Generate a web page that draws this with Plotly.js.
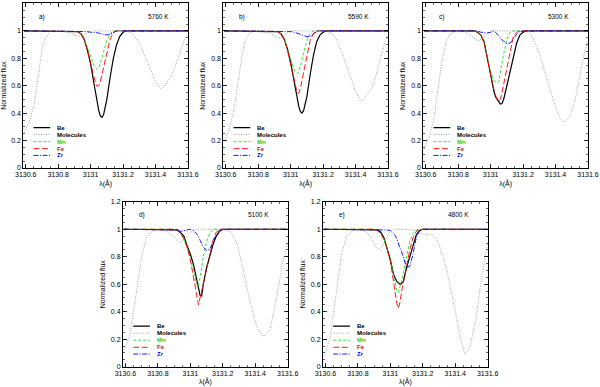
<!DOCTYPE html>
<html><head><meta charset="utf-8">
<script src="https://cdn.plot.ly/plotly-3.0.1.min.js"></script>
<style>html,body{margin:0;padding:0;background:#fff}#chart{width:600px;height:387px}</style>
</head><body><div id="chart"></div>
<script>
// ---------- data ----------
const panelLabels = ['a)', 'b)', 'c)', 'd)', 'e)'];
const temperatures = ['5760 K', '5590 K', '5300 K', '5100 K', '4800 K'];
const seriesNames = ['Be', 'Molecules', 'Mn', 'Fe', 'Zr'];
const xTickVals = [3130.6, 3130.8, 3131.0, 3131.2, 3131.4, 3131.6];
const xTickText = ['3130.6', '3130.8', '3131', '3131.2', '3131.4', '3131.6'];
const yTickVals = [0, 0.2, 0.4, 0.6, 0.8, 1, 1.2];
const yTickText = ['0', '0.2', '0.4', '0.6', '0.8', '1', '1.2'];

// wavelength grid for the atomic-line spectra
const lineX = [3130.59, 3130.90, 3130.92, 3130.94, 3130.96, 3130.98, 3131.00, 3131.02, 3131.03, 3131.04, 3131.05,
               3131.06, 3131.07, 3131.08, 3131.10, 3131.12, 3131.14, 3131.16, 3131.18, 3131.20, 3131.22, 3131.60];

// a) 5760 K
const beA = [1,1,0.995,0.98,0.94,0.86,0.76,0.62,0.55,0.48,0.42,0.38,0.37,0.39,0.50,0.66,0.80,0.90,0.96,0.99,1,1];
const mnA = [1,1,0.995,0.98,0.95,0.88,0.81,0.75,0.73,0.72,0.73,0.76,0.80,0.85,0.93,0.98,1,1,1,1,1,1];
const feA = [1,1,0.995,0.98,0.94,0.86,0.76,0.66,0.62,0.595,0.60,0.63,0.68,0.73,0.84,0.94,0.99,1,1,1,1,1];
const zrA = [1,1,1,1,1,0.995,0.99,0.99,0.985,0.985,0.985,0.98,0.978,0.975,0.97,0.975,0.99,1,1,1,1,1];
const molXA = [3130.59,3130.62,3130.65,3130.68,3130.70,3130.72,3130.75,3130.80,3130.85,3130.88,3130.91,3130.93,3130.95,3130.98,3131.00,3131.22,3131.25,3131.28,3131.31,3131.34,3131.37,3131.40,3131.43,3131.45,3131.47,3131.50,3131.53,3131.56,3131.58,3131.60];
const molYA = [0.26,0.33,0.45,0.70,0.86,0.95,0.995,1,0.995,0.98,0.965,0.96,0.965,0.99,1,1,0.985,0.95,0.885,0.80,0.715,0.63,0.58,0.59,0.62,0.68,0.77,0.88,0.94,0.98];

// b) 5590 K
const beB = [1,1,0.995,0.98,0.94,0.87,0.77,0.64,0.57,0.51,0.45,0.41,0.40,0.42,0.52,0.68,0.82,0.92,0.97,0.99,1,1];
const mnB = [1,1,0.995,0.98,0.94,0.87,0.79,0.72,0.70,0.69,0.70,0.74,0.79,0.84,0.93,0.98,1,1,1,1,1,1];
const feB = [1,1,0.995,0.98,0.94,0.86,0.76,0.64,0.59,0.55,0.545,0.58,0.64,0.70,0.82,0.93,0.98,1,1,1,1,1];
const zrB = [1,1,1,1,1,1,0.995,0.99,0.988,0.985,0.98,0.975,0.97,0.965,0.957,0.96,0.98,0.995,1,1,1,1];
const molXB = [3130.59,3130.62,3130.65,3130.68,3130.70,3130.72,3130.75,3130.80,3130.85,3130.88,3130.91,3130.93,3130.95,3130.98,3131.00,3131.22,3131.25,3131.28,3131.31,3131.34,3131.37,3131.40,3131.43,3131.45,3131.47,3131.50,3131.53,3131.56,3131.58,3131.60];
const molYB = [0.20,0.28,0.42,0.66,0.82,0.93,0.99,1,0.99,0.975,0.955,0.95,0.96,0.99,1,1,0.985,0.94,0.86,0.76,0.66,0.56,0.49,0.50,0.54,0.58,0.69,0.84,0.92,0.97];

// c) 5300 K
const beC = [1,1,0.99,0.97,0.92,0.80,0.67,0.56,0.52,0.50,0.48,0.467,0.47,0.50,0.60,0.71,0.82,0.91,0.97,0.99,1,1];
const mnC = [1,1,0.99,0.97,0.91,0.80,0.70,0.64,0.63,0.62,0.63,0.70,0.77,0.83,0.94,0.99,1,1,1,1,1,1];
const feC = [1,1,0.99,0.97,0.91,0.79,0.67,0.57,0.53,0.50,0.49,0.50,0.55,0.61,0.72,0.85,0.96,0.99,1,1,1,1];
const zrC = [1,1,1,0.99,0.985,0.985,0.99,1,0.99,0.975,0.96,0.945,0.935,0.925,0.91,0.91,0.94,0.975,0.995,1,1,1];
const molXC = [3130.59,3130.62,3130.65,3130.68,3130.70,3130.72,3130.75,3130.80,3130.85,3130.88,3130.91,3130.93,3130.95,3130.98,3131.00,3131.22,3131.25,3131.28,3131.31,3131.34,3131.37,3131.40,3131.43,3131.45,3131.47,3131.49,3131.51,3131.53,3131.56,3131.58,3131.60];
const molYC = [0.14,0.22,0.36,0.60,0.78,0.90,0.98,1,0.99,0.965,0.935,0.93,0.95,0.985,1,1,0.97,0.90,0.80,0.68,0.56,0.44,0.36,0.335,0.35,0.38,0.45,0.55,0.74,0.85,0.93];

// d) 5100 K
const beD = [1,1,0.995,0.975,0.95,0.88,0.82,0.74,0.68,0.62,0.56,0.52,0.515,0.60,0.72,0.81,0.89,0.95,0.985,1,1,1];
const mnD = [1,1,0.99,0.97,0.93,0.87,0.79,0.69,0.64,0.60,0.585,0.64,0.72,0.80,0.91,0.97,1,1,1,1,1,1];
const feD = [1,1,0.99,0.97,0.93,0.87,0.78,0.65,0.57,0.49,0.45,0.50,0.55,0.61,0.72,0.82,0.92,0.98,1,1,1,1];
const zrD = [1,1,0.995,0.985,0.99,1,1,0.99,0.98,0.965,0.945,0.92,0.895,0.87,0.845,0.855,0.91,0.96,0.99,1,1,1];
const molXD = [3130.59,3130.61,3130.63,3130.65,3130.67,3130.70,3130.73,3130.77,3130.82,3130.86,3130.90,3130.94,3130.96,3130.98,3131.00,3131.02,3131.06,3131.20,3131.25,3131.29,3131.33,3131.37,3131.41,3131.45,3131.49,3131.53,3131.57,3131.60];
const molYD = [0.12,0.17,0.24,0.40,0.55,0.80,0.94,0.99,1,0.98,0.945,0.90,0.93,0.95,0.98,0.995,1,1,0.98,0.89,0.68,0.46,0.29,0.22,0.27,0.49,0.77,0.90];

// e) 4800 K
const beE = [1,1,0.995,0.98,0.94,0.86,0.78,0.67,0.64,0.62,0.61,0.60,0.605,0.62,0.72,0.80,0.89,0.96,0.99,1,1,1];
const mnE = [1,1,0.99,0.97,0.93,0.86,0.77,0.66,0.60,0.55,0.54,0.58,0.63,0.68,0.80,0.91,0.97,0.995,1,1,1,1];
const feE = [1,1,0.99,0.97,0.93,0.86,0.77,0.63,0.55,0.46,0.425,0.47,0.55,0.61,0.73,0.85,0.94,0.985,1,1,1,1];
const zrE = [1,1,1,1,1,0.995,0.99,0.97,0.955,0.93,0.90,0.87,0.835,0.80,0.72,0.73,0.82,0.94,0.99,1,1,1];
const molXE = [3130.59,3130.61,3130.63,3130.65,3130.67,3130.70,3130.73,3130.77,3130.82,3130.86,3130.89,3130.91,3130.94,3130.97,3131.00,3131.03,3131.15,3131.18,3131.21,3131.26,3131.29,3131.32,3131.35,3131.39,3131.43,3131.46,3131.49,3131.53,3131.56,3131.60];
const molYE = [0.08,0.14,0.22,0.38,0.56,0.82,0.95,0.99,1,0.97,0.92,0.87,0.85,0.92,0.985,1,0.995,0.975,0.96,0.96,0.92,0.82,0.69,0.47,0.22,0.09,0.14,0.36,0.63,0.90];

// ---------- build ----------
const panelData = [
  {be: beA, mn: mnA, fe: feA, zr: zrA, mx: molXA, my: molYA},
  {be: beB, mn: mnB, fe: feB, zr: zrB, mx: molXB, my: molYB},
  {be: beC, mn: mnC, fe: feC, zr: zrC, mx: molXC, my: molYC},
  {be: beD, mn: mnD, fe: feD, zr: zrD, mx: molXD, my: molYD},
  {be: beE, mn: mnE, fe: feE, zr: zrE, mx: molXE, my: molYE}
];

const styles = {
  Be:        {color: '#000000', dash: 'solid',             width: 1.2, text: '#000000'},
  Molecules: {color: '#8a8a8a', dash: '1px,1.5px',         width: 0.8, text: '#000000'},
  Mn:        {color: '#22dd22', dash: '3px,2px',           width: 0.9, text: '#22cc22'},
  Fe:        {color: '#ff0000', dash: '6px,2.5px',         width: 0.9, text: '#ff0000'},
  Zr:        {color: '#0000ff', dash: '5px,1.5px,1px,1.5px', width: 0.9, text: '#0000ff'}
};

const xDomains = [[0.0388, 0.3133], [0.3722, 0.6467], [0.7055, 0.9800], [0.2050, 0.4795], [0.5383, 0.8128]];
const yDomains = [[0.5659, 0.9910], [0.5659, 0.9910], [0.5659, 0.9910], [0.0525, 0.4786], [0.0525, 0.4786]];

const FONT = 'Liberation Sans, Arial, sans-serif';
const traces = [];
const layout = {
  width: 600, height: 387,
  margin: {l: 0, r: 0, t: 0, b: 0},
  paper_bgcolor: '#ffffff', plot_bgcolor: '#ffffff',
  showlegend: false,
  font: {family: FONT, size: 7, color: '#000'},
  annotations: [], shapes: []
};

panelData.forEach((p, i) => {
  const n = i === 0 ? '' : String(i + 1);
  const xa = 'x' + n, ya = 'y' + n;
  const series = [
    ['Be', lineX, p.be], ['Molecules', p.mx, p.my], ['Mn', lineX, p.mn], ['Fe', lineX, p.fe], ['Zr', lineX, p.zr]
  ];
  series.forEach(([name, xs, ys]) => {
    const s = styles[name];
    traces.push({x: xs, y: ys, type: 'scatter', mode: 'lines', name: name, xaxis: xa, yaxis: ya,
      line: {color: s.color, dash: s.dash, width: s.width}, hoverinfo: 'skip'});
  });

  const axisCommon = {
    showline: true, linecolor: '#000', linewidth: 1, mirror: 'ticks',
    ticks: 'inside', ticklen: 4, tickwidth: 0.8, tickcolor: '#000',
    showgrid: false, zeroline: false, automargin: false,
    tickfont: {family: FONT, size: 7, color: '#000'}
  };
  layout['xaxis' + n] = Object.assign({}, axisCommon, {
    domain: xDomains[i], anchor: ya, range: [3130.585, 3131.6],
    tickmode: 'array', tickvals: xTickVals, ticktext: xTickText,
    minor: {tick0: 3130.6, dtick: 0.05, ticks: 'inside', ticklen: 2, tickcolor: '#000', tickwidth: 0.6},
    title: {text: 'λ(Å)', font: {family: FONT, size: 7, color: '#000'}, standoff: 3}
  });
  layout['yaxis' + n] = Object.assign({}, axisCommon, {
    domain: yDomains[i], anchor: xa, range: [0, 1.2],
    tickmode: 'array', tickvals: yTickVals, ticktext: yTickText,
    minor: {tick0: 0, dtick: 0.05, ticks: 'inside', ticklen: 2, tickcolor: '#000', tickwidth: 0.6},
    title: {text: 'Normalized flux', font: {family: FONT, size: 7, color: '#000'}, standoff: 4}
  });

  // panel label and temperature
  layout.annotations.push({xref: xa, yref: ya, x: 3130.70, y: 1.105, text: panelLabels[i], showarrow: false,
    font: {family: FONT, size: 6.5, color: '#000'}});
  layout.annotations.push({xref: xa, yref: ya, x: 3131.42, y: 1.105, text: temperatures[i], showarrow: false,
    font: {family: FONT, size: 6.5, color: '#000'}});

  // legend inside each panel
  const rows = [0.295, 0.244, 0.192, 0.141, 0.092];
  seriesNames.forEach((name, k) => {
    const s = styles[name];
    layout.shapes.push({type: 'line', xref: xa, yref: ya, x0: 3130.648, x1: 3130.751, y0: rows[k], y1: rows[k],
      line: {color: s.color, dash: s.dash, width: s.width}});
    layout.annotations.push({xref: xa, yref: ya, x: 3130.78, y: rows[k], xanchor: 'left', text: '<b>' + name + '</b>',
      showarrow: false, font: {family: FONT, size: 6, color: s.text}});
  });
});

Plotly.newPlot('chart', traces, layout, {displayModeBar: false, staticPlot: true});
</script></body></html>
